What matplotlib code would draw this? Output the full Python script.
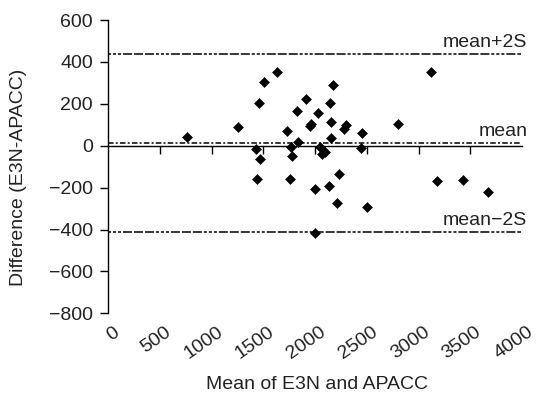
import matplotlib
matplotlib.use("Agg")
import matplotlib.pyplot as plt
from matplotlib.transforms import ScaledTranslation

plt.rcParams['font.family'] = ['Liberation Sans', 'DejaVu Sans']
plt.rcParams['lines.scale_dashes'] = False

# Data: mean of the two methods (x) and their difference (y)
mean_vals = [764, 1257, 1455, 1506, 1631, 1731, 1828, 1915, 1957, 1951,
             2031, 2173, 2147, 2154, 2154, 2296, 2279, 2454, 2805, 3121,
             1832, 1426, 1464, 1767, 1779, 2044, 2067, 2099, 2444, 1438,
             1760, 1999, 2131, 2234, 2209, 2499, 3179, 3427, 3672, 1999]
diff_vals = [43, 91, 202, 305, 350, 72, 166, 223, 102, 95,
             156, 290, 202, 115, 37, 97, 78, 62, 104, 350,
             18, -17, -65, -5, -49, -8, -41, -29, -12, -158,
             -159, -205, -191, -135, -272, -291, -168, -164, -222, -418]

mean_diff = 13
upper_loa = 438
lower_loa = -412

x_ticks = [0, 500, 1000, 1500, 2000, 2500, 3000, 3500, 4000]
y_ticks = [600, 400, 200, 0, -200, -400, -600, -800]

text_color = '#222222'
fs = 14

fig = plt.figure(figsize=(5.36, 3.94), dpi=100)
ax = fig.add_axes([0.202, 0.2048, 0.772, 0.7444])

ax.set_xlim(0, 4000)
ax.set_ylim(-800, 600)

# reference lines
loa_style = (0, (2.2, 1.4, 2.2, 1.4, 2.2, 1.4, 6.5, 1.4, 6.5, 1.4, 6.5, 1.4))
ax.hlines(upper_loa, 0, 3990, colors='black', linewidth=1.1, linestyles=[loa_style])
ax.hlines(lower_loa, 0, 3990, colors='black', linewidth=1.1, linestyles=[loa_style])
ax.hlines(mean_diff, 0, 3990, colors='black', linewidth=1.1,
          linestyles=[(0, (4.0, 1.6, 1.4, 1.6))])

ax.plot(mean_vals, diff_vals, linestyle='none', marker='D', markersize=5.2,
        color='black', markeredgewidth=0.4, zorder=5)

ax.text(3990 + 60, upper_loa + 15, 'mean+2S', ha='right', va='bottom',
        fontsize=fs, color=text_color)
ax.text(3990 + 60, mean_diff + 15, 'mean', ha='right', va='bottom',
        fontsize=fs, color=text_color)
ax.text(3990 + 60, lower_loa + 15, 'mean\u22122S', ha='right', va='bottom',
        fontsize=fs, color=text_color)

# spines
for s in ['top', 'right']:
    ax.spines[s].set_visible(False)
ax.spines['bottom'].set_position(('data', 0))
ax.spines['bottom'].set_linewidth(1.0)
ax.spines['left'].set_linewidth(1.0)

ax.set_xticks(x_ticks[1:-1])
ax.tick_params(axis='x', direction='out', length=6, width=1.0, labelbottom=False)

ax.set_yticks(y_ticks)
ax.set_yticklabels([str(v).replace('-', '\u2212') for v in y_ticks])
ax.tick_params(axis='y', direction='out', length=6, width=1.0, pad=5,
               labelsize=fs, labelcolor=text_color)

# tick labels at the bottom
sec = ax.secondary_xaxis(0)
sec.spines['bottom'].set_visible(False)
sec.set_xticks(x_ticks)
sec.set_xticklabels([str(v) for v in x_ticks], rotation=35, ha='right', va='top',
                    rotation_mode='anchor', fontsize=fs, color=text_color)
sec.tick_params(axis='x', length=0, pad=7.5)
offset = ScaledTranslation(4.5 / 100, 0, fig.dpi_scale_trans)
for lab in sec.get_xticklabels():
    lab.set_transform(lab.get_transform() + offset)

ax.set_xlabel('Mean of E3N and APACC', fontsize=fs, color=text_color, va='top')
ax.xaxis.set_label_coords(0.505, -0.215)
ax.set_ylabel('Difference (E3N-APACC)', fontsize=fs, color=text_color)
ax.yaxis.set_label_coords(-0.196, 0.465)

fig.savefig('out.png', dpi=100)
